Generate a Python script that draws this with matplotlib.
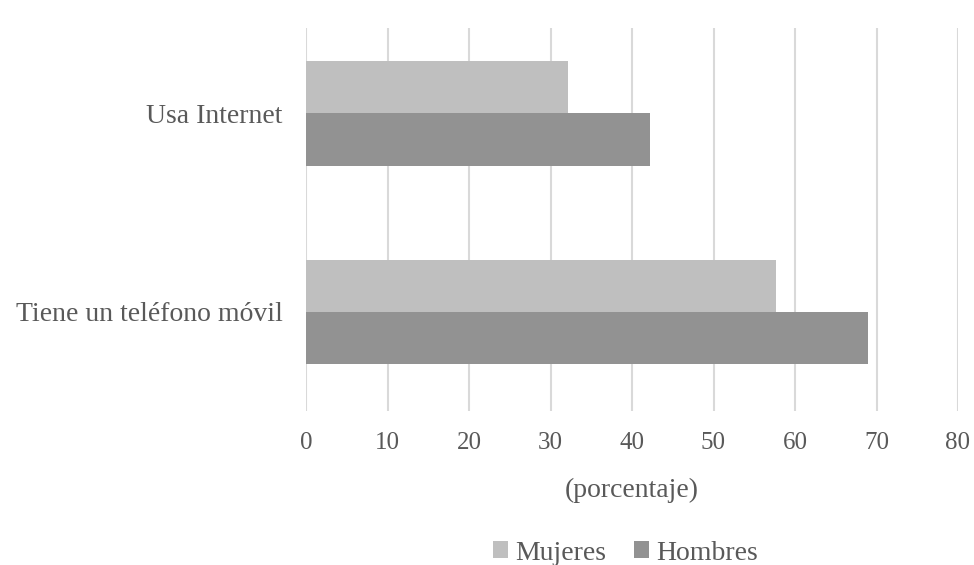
import numpy as np
import matplotlib
matplotlib.use("Agg")
import matplotlib.pyplot as plt

# Data
categories = ["Tiene un teléfono móvil", "Usa Internet"]
mujeres = [57.7, 32.1]
hombres = [68.9, 42.2]
series_names = ["Mujeres", "Hombres"]
x_ticks = [0, 10, 20, 30, 40, 50, 60, 70, 80]

plt.rcParams["font.family"] = ["Liberation Serif", "DejaVu Serif"]

fig = plt.figure(figsize=(9.74, 5.65), dpi=100)
ax = fig.add_axes([306 / 974, 1 - 411 / 565, 652 / 974, (411 - 28) / 565])

y = np.arange(len(categories))
h = 0.263

ax.barh(y + h / 2, mujeres, height=h, color="#bfbfbf", label=series_names[0], zorder=3)
ax.barh(y - h / 2, hombres, height=h, color="#929292", label=series_names[1], zorder=3)

ax.set_xlim(0, 80)
ax.set_ylim(-0.5, 1.43)
ax.set_xticks(x_ticks)
ax.set_yticks(y)
ax.set_yticklabels(categories, fontsize=20)

ax.grid(axis="x", color="#d9d9d9", linewidth=1.5, zorder=0)
for s in ax.spines.values():
    s.set_visible(False)
ax.tick_params(axis="both", length=0, labelcolor="#595959")
ax.tick_params(axis="x", pad=15, labelsize=18)
ax.tick_params(axis="y", pad=17)

ax.set_xlabel("(porcentaje)", fontsize=20, color="#595959", labelpad=17)

leg = fig.legend(loc="center", bbox_to_anchor=(625 / 974, 1 - 553 / 565), ncol=2,
                 frameon=False, fontsize=20, handlelength=0.55, handleheight=0.55,
                 handletextpad=0.25, columnspacing=1.0, labelcolor="#595959",
                 borderaxespad=0, borderpad=0)

fig.savefig("out.png", dpi=100)
